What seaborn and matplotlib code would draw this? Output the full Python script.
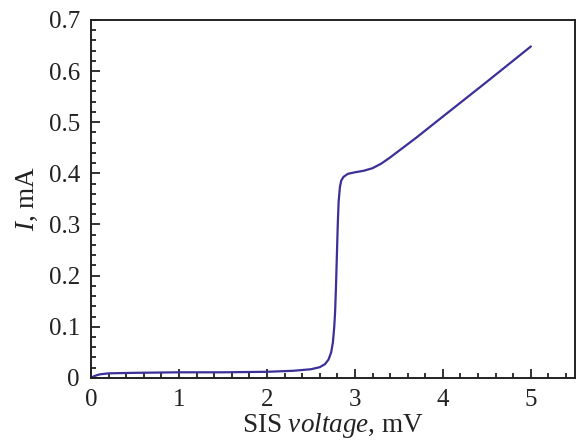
import matplotlib
matplotlib.use("Agg")
import matplotlib.pyplot as plt
from matplotlib.ticker import MultipleLocator
import seaborn as sns
import pandas as pd

# SIS junction I-V characteristic
voltage_mV = [0.0, 0.03, 0.06, 0.1, 0.15, 0.2, 0.5, 1.0, 1.5, 2.0, 2.3, 2.5, 2.6,
              2.66, 2.7, 2.73, 2.75, 2.765, 2.775, 2.785, 2.795, 2.805, 2.815,
              2.83, 2.845, 2.87, 2.92, 3.0, 3.1, 3.2, 3.3, 3.4, 3.5, 3.6,
              3.7, 4.0, 4.5, 5.0]
current_mA = [0.0, 0.003, 0.005, 0.007, 0.008, 0.009, 0.010, 0.011, 0.011, 0.012,
              0.014, 0.017, 0.021, 0.027, 0.036, 0.05, 0.07, 0.1, 0.13, 0.18,
              0.24, 0.30, 0.345, 0.374, 0.386, 0.393, 0.399, 0.402, 0.405,
              0.41, 0.419, 0.431, 0.444, 0.457, 0.47, 0.511, 0.579, 0.648]

x_ticks = [0, 1, 2, 3, 4, 5]
y_ticks = [0, 0.1, 0.2, 0.3, 0.4, 0.5, 0.6, 0.7]
y_tick_labels = ["0", "0.1", "0.2", "0.3", "0.4", "0.5", "0.6", "0.7"]

df = pd.DataFrame({"V": voltage_mV, "I": current_mA})

sns.set_style("ticks")
plt.rcParams["font.family"] = ["Liberation Serif", "DejaVu Serif"]
plt.rcParams["mathtext.fontset"] = "custom"
plt.rcParams["mathtext.rm"] = "Liberation Serif"
plt.rcParams["mathtext.it"] = "Liberation Serif:italic"

fig = plt.figure(figsize=(5.76, 4.41), dpi=100)
ax = fig.add_axes([0.158, 0.143, 0.840, 0.812])

sns.lineplot(data=df, x="V", y="I", ax=ax, sort=False, estimator=None,
             color="#3b2f98", linewidth=1.6)

ax.set_xlim(0, 5.5)
ax.set_ylim(0, 0.7)
ax.set_xticks(x_ticks)
ax.set_xticklabels([str(t) for t in x_ticks])
ax.set_yticks(y_ticks)
ax.set_yticklabels(y_tick_labels)
ax.xaxis.set_minor_locator(MultipleLocator(0.2))
ax.yaxis.set_minor_locator(MultipleLocator(0.02))

ax.tick_params(which="both", direction="in", top=False, right=False,
               width=1.3, colors="#222222", labelsize=18, labelcolor="#222222")
ax.tick_params(axis="y", which="major", length=6.5, pad=8)
ax.tick_params(axis="x", which="major", length=6.5, pad=8)
ax.tick_params(which="minor", length=3.8)

for sp in ax.spines.values():
    sp.set_visible(True)
    sp.set_linewidth(1.4)
    sp.set_color("#222222")

ax.set_xlabel("SIS $\\mathit{voltage}$, mV", fontsize=19.5, color="#222222", labelpad=0)
ax.set_ylabel("$\\mathit{I}$, mA", fontsize=19.5, color="#222222", labelpad=6)

fig.savefig("out.png", dpi=100)
